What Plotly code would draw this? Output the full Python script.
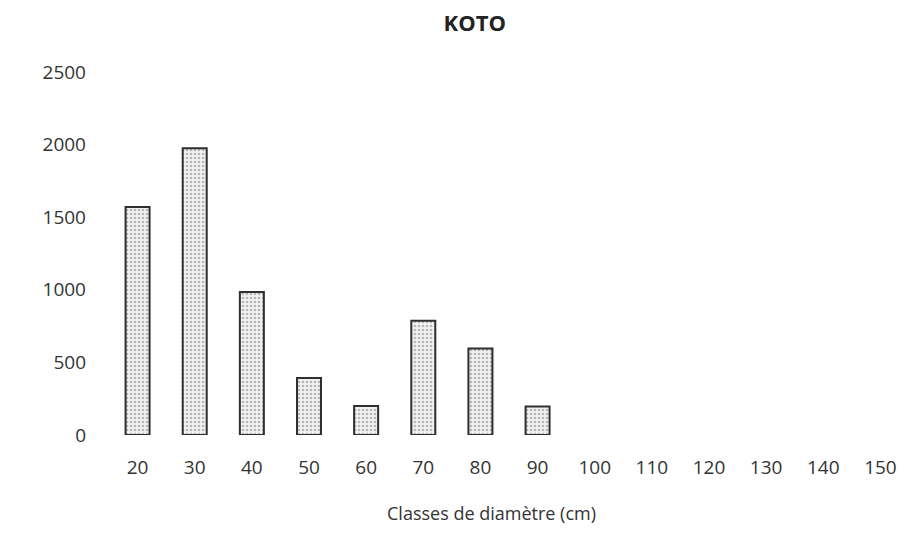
import plotly.graph_objects as go

classes = ["20", "30", "40", "50", "60", "70", "80", "90", "100", "110", "120", "130", "140", "150"]
effectifs = [1570, 1975, 985, 392, 200, 786, 596, 197, 0, 0, 0, 0, 0, 0]
y_ticks = [0, 500, 1000, 1500, 2000, 2500]
x_title = "Classes de diamètre (cm)"

font_family = "Open Sans, Liberation Sans, Arial, sans-serif"
line_widths = [2 if v > 0 else 0 for v in effectifs]

fig = go.Figure(
    go.Bar(
        x=classes,
        y=effectifs,
        marker=dict(
            color="#ececec",
            line=dict(color="#2f2f2f", width=line_widths),
            pattern=dict(shape=".", fgcolor="#7a7a7a", bgcolor="#f2f2f2", size=4, solidity=0.35),
        ),
        hoverinfo="x+y",
    )
)

fig.update_layout(
    width=908,
    height=536,
    margin=dict(l=101, r=7, t=64, b=109),
    paper_bgcolor="white",
    plot_bgcolor="white",
    bargap=0.58,
    showlegend=False,
    font=dict(family=font_family, color="#333333", size=19),
    title=dict(
        text="<b>KOTO</b>",
        x=0.514,
        xanchor="center",
        y=0.972,
        yanchor="middle",
        font=dict(family="Open Sans, Liberation Sans, Arial, sans-serif", size=22, color="#222222"),
    ),
    annotations=[
        dict(
            text=x_title,
            xref="paper",
            yref="paper",
            x=0.4775,
            y=0,
            xanchor="center",
            yanchor="middle",
            yshift=-78,
            showarrow=False,
            font=dict(size=18, color="#333333"),
        )
    ],
)

fig.update_xaxes(
    type="category",
    showgrid=False,
    showline=False,
    ticks="",
    ticklabelstandoff=19,
    tickfont=dict(size=19, color="#333333"),
)

fig.update_yaxes(
    range=[0, 2500],
    tickvals=y_ticks,
    showgrid=False,
    showline=False,
    zeroline=False,
    ticks="",
    ticklabelstandoff=22,
    tickfont=dict(size=19, color="#333333"),
)

fig.write_html("out.html")
